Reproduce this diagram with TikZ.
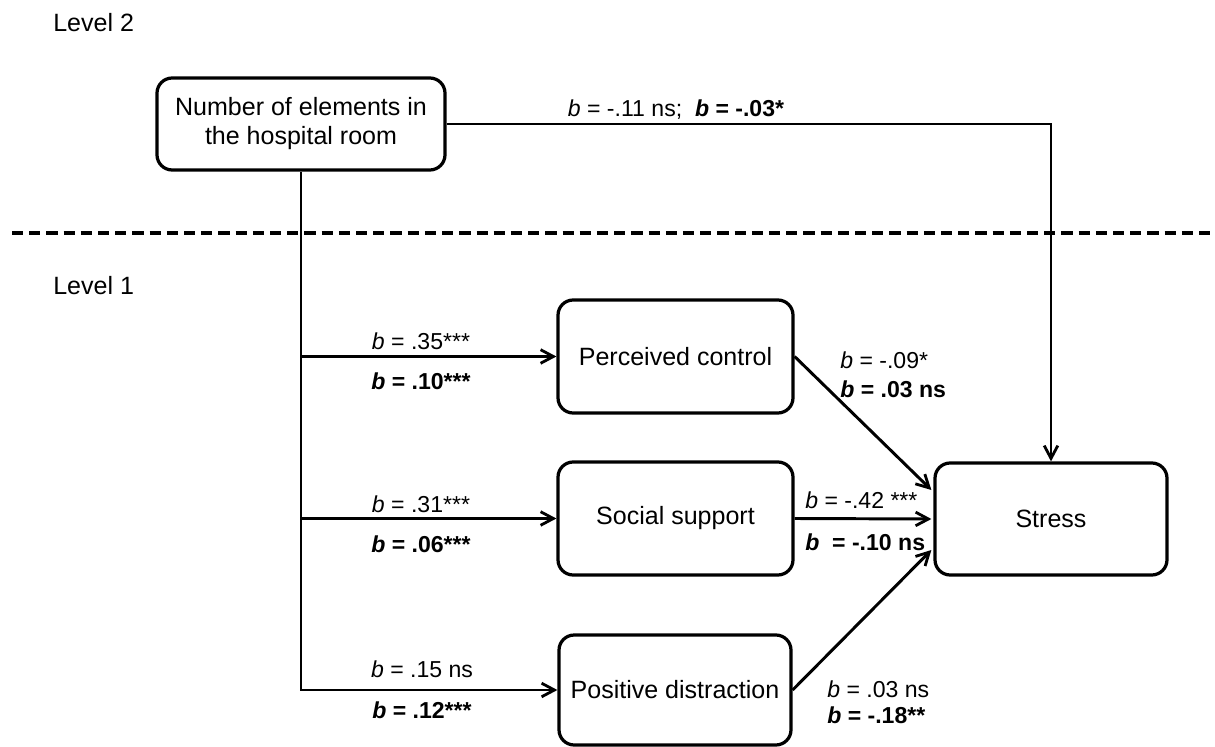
\documentclass[tikz,border=0pt]{standalone}
\usepackage{fontspec}
\setmainfont{Liberation Sans}
\usetikzlibrary{arrows.meta,calc}
\begin{document}
\begin{tikzpicture}[x=0.025cm,y=-0.025cm,
  box/.style={draw,line width=2.3pt,rounded corners=0.38cm,align=center,
    font=\fontsize{17.8}{20.6}\selectfont,inner sep=0pt},
  arr/.style={line width=2.1pt,-{Straight Barb[length=0.32cm,width=0.34cm,line width=2pt]}},
  lab/.style={font=\fontsize{16.4}{19}\selectfont,inner sep=0pt},
  lvl/.style={font=\fontsize{17.8}{20}\selectfont,inner sep=0pt,anchor=base west}]
\useasboundingbox (0,0) rectangle (1215,747);
% levels
\node[lvl] (lv2) at (53,32) {Level 2};
\node[lvl] (lv1) at (53,295) {Level 1};
\draw[line width=2.8pt,dash pattern=on 0.28cm off 0.15cm] (12,233) coordinate (d1) -- (1215,233) coordinate (d2);
% boxes
\node[box,minimum width=288*0.025cm,minimum height=92*0.025cm] (num) at (301,124) {Number of elements in\\the hospital room};
\node[box,minimum width=235*0.025cm,minimum height=113*0.025cm] (pc) at (675.5,356.5) {Perceived control};
\node[box,minimum width=235*0.025cm,minimum height=113*0.025cm] (ss) at (675.5,518.5) {Social support};
\node[box,minimum width=232*0.025cm,minimum height=110*0.025cm] (pd) at (675,690) {Positive distraction};
\node[box,minimum width=232*0.025cm,minimum height=112*0.025cm] (st) at (1051,519) {Stress};
% connectors
\draw[arr] (num.east) -| (st.north);
\draw[arr] (num.south) |- (pd.west);
\draw[arr] (num.south |- pc.west) -- (pc.west);
\draw[arr] (num.south |- ss.west) -- (ss.west);
\coordinate (s1) at ($(st.west)+(-2,-29)$);
\coordinate (s2) at ($(st.west)+(-2,0)$);
\coordinate (s3) at ($(st.west)+(-2,31)$);
\draw[arr] (pc.east) -- (s1);
\draw[arr] (ss.east) -- (s2);
\draw[arr] (pd.east) -- (s3);
% labels
\node[lab,anchor=base] (l0) at (676,117) {\textit{b} = -.11 ns;\ \ \textbf{\textit{b} = -.03*}};
\node[lab,anchor=base] (l1a) at (421,350) {\textit{b} = .35***};
\node[lab,anchor=base] (l1b) at (421,390) {\textbf{\textit{b} = .10***}};
\node[lab,anchor=base] (l2a) at (421,512) {\textit{b} = .31***};
\node[lab,anchor=base] (l2b) at (421,552) {\textbf{\textit{b} = .06***}};
\node[lab,anchor=base] (l3a) at (422,677) {\textit{b} = .15 ns};
\node[lab,anchor=base] (l3b) at (422,718) {\textbf{\textit{b} = .12***}};
\node[lab,anchor=base west] (r1a) at (840,368) {\textit{b} = -.09*};
\node[lab,anchor=base west] (r1b) at (840,397) {\textbf{\textit{b} = .03 ns}};
\node[lab,anchor=base west] (r2a) at (805,508) {\textit{b} = -.42 ***};
\node[lab,anchor=base west] (r2b) at (805,550) {\textbf{\textit{b}\ \ = -.10 ns}};
\node[lab,anchor=base west] (r3a) at (827,697) {\textit{b} = .03 ns};
\node[lab,anchor=base west] (r3b) at (827,723) {\textbf{\textit{b} = -.18**}};
\end{tikzpicture}
\end{document}
